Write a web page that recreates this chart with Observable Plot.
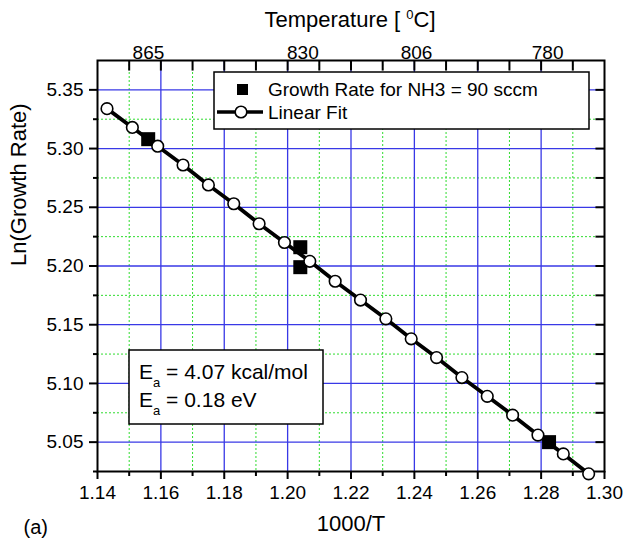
<!DOCTYPE html>
<html><head><meta charset="utf-8">
<script src="https://cdn.jsdelivr.net/npm/d3@7"></script>
<script src="https://cdn.jsdelivr.net/npm/@observablehq/plot@0.6"></script>
<style>body{margin:0;background:#fff}</style>
</head><body><div id="chart"></div>
<script>
// Linear fit points (1000/T, Ln(Growth Rate))
const fitX = [1.143, 1.151, 1.159, 1.167, 1.175, 1.183, 1.191, 1.199, 1.207, 1.215,
              1.223, 1.231, 1.239, 1.247, 1.255, 1.263, 1.271, 1.279, 1.287, 1.295];
const fitY = [5.334, 5.318, 5.302, 5.286, 5.269, 5.253, 5.236, 5.220, 5.204, 5.187,
              5.171, 5.155, 5.138, 5.122, 5.105, 5.089, 5.073, 5.056, 5.040, 5.023];
// Measured growth rate for NH3 = 90 sccm
const measX = [1.156, 1.204, 1.204, 1.2825];
const measY = [5.308, 5.216, 5.199, 5.050];
// Tick values
const xMajorTicks = [1.14, 1.16, 1.18, 1.20, 1.22, 1.24, 1.26, 1.28, 1.30];
const xMinorTicks = [1.15, 1.17, 1.19, 1.21, 1.23, 1.25, 1.27, 1.29];
const yMajorTicks = [5.05, 5.10, 5.15, 5.20, 5.25, 5.30, 5.35];
const yMinorTicks = [5.025, 5.075, 5.125, 5.175, 5.225, 5.275, 5.325];
const tempLabels = [865, 830, 806, 780];
const xDomain = [1.14, 1.30];
const yDomain = [5.025, 5.375];

const fitData = fitX.map((x, i) => ({x, y: fitY[i]}));
const measData = measX.map((x, i) => ({x, y: measY[i]}));

const BLUE = "#3838e6", GREEN = "#2fdc2f";
const innerX = xMajorTicks.slice(1, -1);
const innerY = yMajorTicks;

const plot = Plot.plot({
  width: 624, height: 543,
  marginLeft: 97, marginRight: 20, marginTop: 60, marginBottom: 72,
  style: {fontFamily: "'Liberation Sans', Arial, Helvetica, sans-serif", fontSize: "19px", background: "white", color: "black", overflow: "visible"},
  x: {domain: xDomain},
  y: {domain: yDomain},
  marks: [
    Plot.gridX(xMinorTicks, {stroke: GREEN, strokeOpacity: 1, strokeWidth: 1, strokeDasharray: "2,2"}),
    Plot.gridY(yMinorTicks.slice(1), {stroke: GREEN, strokeOpacity: 1, strokeWidth: 1, strokeDasharray: "2,2"}),
    Plot.gridX(innerX, {stroke: BLUE, strokeOpacity: 1, strokeWidth: 1.3}),
    Plot.gridY(innerY, {stroke: BLUE, strokeOpacity: 1, strokeWidth: 1.3}),
    // bottom axis
    Plot.axisX(xMajorTicks, {anchor: "bottom", tickSize: 8, tickPadding: 6, strokeWidth: 2, tickFormat: d3.format(".2f"), fontSize: 19, label: null}),
    Plot.axisX(xMinorTicks, {anchor: "bottom", tickSize: 5, strokeWidth: 2, tickFormat: () => "", label: null}),
    // left axis
    Plot.axisY(yMajorTicks, {anchor: "left", tickSize: 8, tickPadding: 6, strokeWidth: 2, tickFormat: d3.format(".2f"), fontSize: 19, label: null}),
    Plot.axisY(yMinorTicks, {anchor: "left", tickSize: 4, strokeWidth: 2, tickFormat: () => "", label: null}),
    // top inward ticks
    Plot.ruleX([...xMinorTicks, ...innerX], {x: d => d, y1: yDomain[1], y2: yDomain[1] - 0.009, stroke: "black", strokeWidth: 2}),
    // right inward ticks
    Plot.ruleY([...yMajorTicks, ...yMinorTicks.slice(1)], {y: d => d, x1: xDomain[1], x2: xDomain[1] - 0.0027, stroke: "black", strokeWidth: 2}),
    // top temperature labels
    Plot.text(tempLabels, {x: t => 1000 / t, text: t => String(t), frameAnchor: "top", dy: -15, fontSize: 19}),
    Plot.frame({stroke: "black", strokeWidth: 2}),
    // data
    Plot.dot(measData, {x: "x", y: "y", symbol: "square", r: 7.9, fill: "black", stroke: "none"}),
    Plot.line(fitData, {x: "x", y: "y", stroke: "black", strokeWidth: 3.8}),
    Plot.dot(fitData, {x: "x", y: "y", r: 5.8, fill: "white", stroke: "black", strokeWidth: 1.6}),
    // axis titles
    Plot.text(["Ln(Growth Rate)"], {frameAnchor: "left", dx: -79, rotate: -90, fontSize: 22}),
    Plot.text(["1000/T"], {frameAnchor: "bottom", dy: 59, fontSize: 22}),
    Plot.text(["(a)"], {frameAnchor: "bottom-left", dx: -74, dy: 62, textAnchor: "start", fontSize: 20})
  ]
});

const svg = d3.select(plot);
const FONT = "'Liberation Sans', Arial, Helvetica, sans-serif";

// Top title with superscript
const title = svg.append("text").attr("x", 350).attr("y", 27).attr("text-anchor", "middle")
  .attr("font-family", FONT).attr("font-size", 22).attr("fill", "black");
title.append("tspan").text("Temperature [ ");
title.append("tspan").attr("dy", -8).attr("font-size", 13).text("0");
title.append("tspan").attr("dy", 8).text("C]");

// Legend box
const lg = svg.append("g").attr("font-family", FONT).attr("font-size", 19).attr("text-anchor", "start");
lg.append("rect").attr("x", 214).attr("y", 72).attr("width", 375).attr("height", 57)
  .attr("fill", "white").attr("stroke", "black").attr("stroke-width", 1.5);
lg.append("rect").attr("x", 237).attr("y", 84).attr("width", 11).attr("height", 11).attr("fill", "black");
lg.append("text").attr("x", 268).attr("y", 89).attr("dy", "0.35em").text("Growth Rate for NH3 = 90 sccm");
lg.append("line").attr("x1", 217).attr("x2", 263).attr("y1", 112).attr("y2", 112)
  .attr("stroke", "black").attr("stroke-width", 3.5);
lg.append("circle").attr("cx", 241).attr("cy", 112).attr("r", 5.8)
  .attr("fill", "white").attr("stroke", "black").attr("stroke-width", 1.6);
lg.append("text").attr("x", 268).attr("y", 112).attr("dy", "0.35em").text("Linear Fit");

// Activation energy box
const eb = svg.append("g").attr("font-family", FONT).attr("font-size", 21).attr("text-anchor", "start");
eb.append("rect").attr("x", 129).attr("y", 350).attr("width", 194).attr("height", 74)
  .attr("fill", "white").attr("stroke", "black").attr("stroke-width", 1.5);
const eLines = ["= 4.07 kcal/mol", "= 0.18 eV"];
eLines.forEach((s, i) => {
  const t = eb.append("text").attr("x", 139).attr("y", 379 + i * 28);
  t.append("tspan").text("E");
  t.append("tspan").attr("dy", 8).attr("font-size", 13).text("a");
  t.append("tspan").attr("dy", -8).text(" " + s);
});

document.getElementById("chart").appendChild(plot);
</script>
</body></html>
